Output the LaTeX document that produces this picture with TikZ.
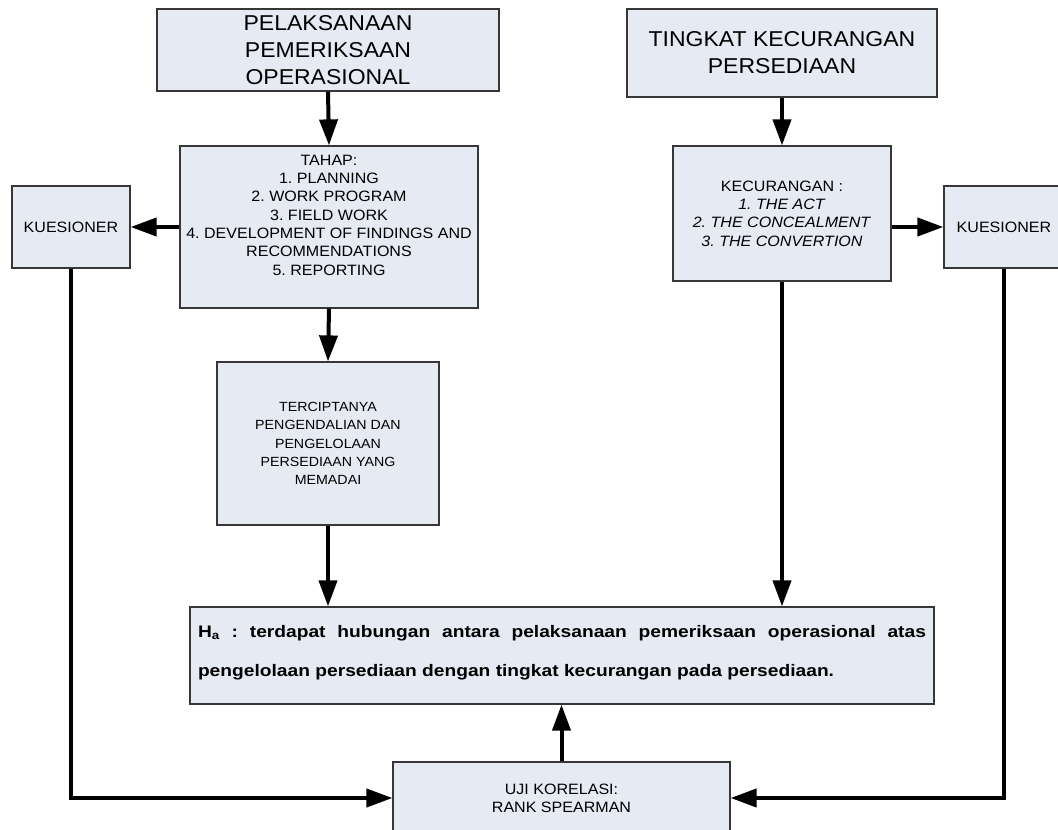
\documentclass[tikz,border=0pt]{standalone}
\usepackage{fontspec}
\setmainfont{Liberation Sans}[FakeStretch=1.07]
\newfontfamily\hafont{Liberation Sans}[FakeStretch=1.15]
\usetikzlibrary{arrows.meta}
\definecolor{boxfill}{RGB}{230,234,243}
\definecolor{boxline}{RGB}{55,55,55}
\frenchspacing
\begin{document}
\begin{tikzpicture}[x=1pt,y=-1pt,
  box/.style={draw=boxline, fill=boxfill, line width=1.2pt, inner sep=0pt, align=center},
  conn/.style={line width=4pt, -{Triangle[length=26pt,width=18pt]}},
  bigtext/.style={font=\fontsize{21.5}{27}\selectfont},
  smalltext/.style={font=\fontsize{15}{18.3}\selectfont},
  midtext/.style={font=\fontsize{13.3}{18.2}\selectfont}]
\useasboundingbox (0,0) rectangle (1058,830);
\fill[white] (0,0) rectangle (1058,830);

% boxes
\node[box,bigtext,minimum width=342pt,minimum height=82pt] (pel) at (328,50) {PELAKSANAAN\\PEMERIKSAAN\\OPERASIONAL};
\node[box,smalltext,minimum width=298pt,minimum height=162pt] (tahap) at (329,227) {TAHAP:\\1. PLANNING\\2. WORK PROGRAM\\3. FIELD WORK\\4. DEVELOPMENT OF FINDINGS AND\\RECOMMENDATIONS\\5. REPORTING\\ \strut};
\node[box,smalltext,minimum width=118pt,minimum height=82pt] (kuesA) at (71,227) {KUESIONER};
\node[box,midtext,minimum width=222pt,minimum height=163pt] (terc) at (328,443.5) {TERCIPTANYA\\PENGENDALIAN DAN\\PENGELOLAAN\\PERSEDIAAN YANG\\MEMADAI};
\node[box,bigtext,minimum width=310pt,minimum height=88pt] (ting) at (782,53) {TINGKAT KECURANGAN\\PERSEDIAAN};
\node[box,smalltext,minimum width=218pt,minimum height=135pt] (kec) at (782,213.5) {KECURANGAN :\\\textit{1. THE ACT}\\\textit{2. THE CONCEALMENT}\\\textit{3. THE CONVERTION}};
\node[box,smalltext,minimum width=120pt,minimum height=82pt] (kuesB) at (1004,227) {KUESIONER};
\node[box,minimum width=744pt,minimum height=97pt,text width=728pt,align=justify,text depth=49pt,
  font=\hafont\bfseries\fontsize{16.7}{39}\selectfont] (ha) at (562,655.5)
  {\hyphenpenalty=10000 H\textsubscript{a} : terdapat hubungan antara pelaksanaan pemeriksaan operasional atas\linebreak pengelolaan persediaan dengan tingkat kecurangan pada persediaan.};
\node[box,smalltext,minimum width=337pt,minimum height=72pt] (uji) at (561.5,798) {UJI KORELASI:\\RANK SPEARMAN};

% connectors
\draw[conn] (pel.south) -- (tahap.north);
\draw[conn] (tahap.west) -- (kuesA.east);
\draw[conn] (tahap.south) -- (terc.north);
\draw[conn] (terc.south) -- (terc.south |- ha.north);
\draw[conn] (ting.south) -- (kec.north);
\draw[conn] (kuesB.west -| kec.east) -- (kuesB.west);
\draw[conn] (kec.south) -- (kec.south |- ha.north);
\draw[conn] (kuesA.south) |- (uji.west);
\draw[conn] (kuesB.south) |- (uji.east);
\draw[conn] (uji.north) -- (uji.north |- ha.south);
\end{tikzpicture}
\end{document}
